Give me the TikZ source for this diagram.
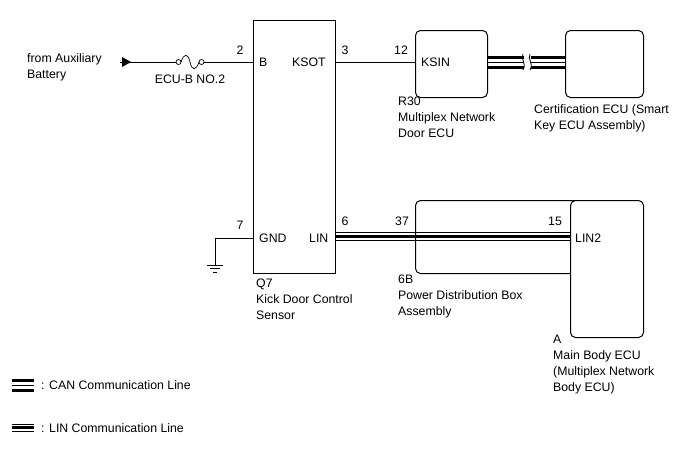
\documentclass[tikz,border=0pt]{standalone}
\usepackage{fontspec}
\setmainfont{Liberation Sans}
\begin{document}
\begin{tikzpicture}[x=1pt,y=-1pt,
  txt/.style={font=\fontsize{12.3}{16}\selectfont,inner sep=0pt,align=left},
  lbl/.style={txt,anchor=west},
  ecu/.style={draw,rounded corners=5pt,line width=1pt},
  box/.style={draw,line width=1pt},
  wire/.style={line width=0.7pt}]
\useasboundingbox (0,0) rectangle (688,463);
% kick sensor
\node[box,minimum width=82pt,minimum height=253pt,anchor=north west,inner sep=0pt] (q7) at (253,20) {};
\node[lbl] (pB) at (259,62) {B};
\node[lbl] (pK) at (292,62) {KSOT};
\node[lbl] (pG) at (259,238) {GND};
\node[lbl] (pL) at (309,238) {LIN};
\node[lbl,anchor=north west] (q7l) at (256,279) {Q7\\Kick Door Control\\Sensor};
% battery
\node[lbl,anchor=north west] (bat) at (27,53) {from Auxiliary\\Battery};
\coordinate (s) at (120,62);
\coordinate (f1) at (176,62);
\coordinate (f2) at (204,62);
\coordinate (bIn) at (253,62);
\draw[wire] (s) -- (f1);
\fill (122,57) -- (131,62) -- (122,67) -- cycle;
\draw[wire] (f1) ++(2.5,0) circle (2.5);
\draw[wire] (f2) ++(-2.5,0) circle (2.5);
\draw[wire] (181,62) .. controls (184,53) and (188,53) .. (190,62) .. controls (192,71) and (196,71) .. (199,62);
\draw[wire] (f2) -- (bIn);
\node[txt] (fuse) at (190,79) {ECU-B NO.2};
\node[txt] (n2) at (240,50) {2};
% R30
\node[ecu,minimum width=72pt,minimum height=67pt,anchor=north west,inner sep=0pt] (r30) at (415,30) {};
\node[lbl] (ksin) at (421,62) {KSIN};
\node[lbl,anchor=north west] (r30l) at (398,97) {R30\\Multiplex Network\\Door ECU};
\node[txt] (n3) at (345,50) {3};
\node[txt] (n12) at (401,50) {12};
\draw[wire] (335,62) -- (r30.west |- 0,62);
% cert
\node[ecu,minimum width=78pt,minimum height=67pt,anchor=north west,inner sep=0pt] (cert) at (565,30) {};
\node[lbl,anchor=north west] (certl) at (534,104) {Certification ECU (Smart\\Key ECU Assembly)};
\foreach \y/\w in {57/3,62/1,67/3}{
  \draw[line width=\w pt] (487,\y) -- (524,\y);
  \draw[line width=\w pt] (531,\y) -- (565,\y);}
\fill[white] (524,54) rectangle (531,70);
\draw[line width=0.8pt] (523,54) .. controls (520,59) and (527,63) .. (523,70);
\draw[line width=0.8pt] (530,54) .. controls (527,59) and (534,63) .. (530,70);
% ground
\node[txt] (n7) at (240,225) {7};
\coordinate (g) at (215,265);
\draw[wire] (253,238) -- (215,238) -- (g);
\draw[wire] (207,265) -- (223,265) (210,268.5) -- (220,268.5) (213,272) -- (217,272);
% power distribution / main body
\node[ecu,minimum width=165pt,minimum height=73pt,anchor=north west,inner sep=0pt] (pdb) at (415,200) {};
\node[ecu,fill=white,minimum width=73pt,minimum height=137pt,anchor=north west,inner sep=0pt] (mb) at (570,200) {};
\node[lbl] (lin2) at (575,238) {LIN2};
\node[txt] (n6) at (345,221) {6};
\node[txt] (n37) at (402,221) {37};
\node[txt] (n15) at (555,221) {15};
\draw[line width=1pt] (335,232.5) -- (570,232.5) (335,240) -- (570,240);
\draw[line width=3pt] (335,236.2) -- (570,236.2);
\draw[line width=1pt] (415,228) -- (415,245);
\node[lbl,anchor=north west] (pdbl) at (398,275) {6B\\Power Distribution Box\\Assembly};
\node[lbl,anchor=north west] (mbl) at (553,335) {A\\Main Body ECU\\(Multiplex Network\\Body ECU)};
% legend
\foreach \y/\w in {380/3,385/1,390/3}{\draw[line width=\w pt] (12,\y) -- (34,\y);}
\foreach \y/\w in {424/1,427.7/3,431.5/1}{\draw[line width=\w pt] (12,\y) -- (34,\y);}
\node[lbl] (lcan) at (41,385) {: CAN Communication Line};
\node[lbl] (llin) at (41,428) {: LIN Communication Line};
\end{tikzpicture}
\end{document}
